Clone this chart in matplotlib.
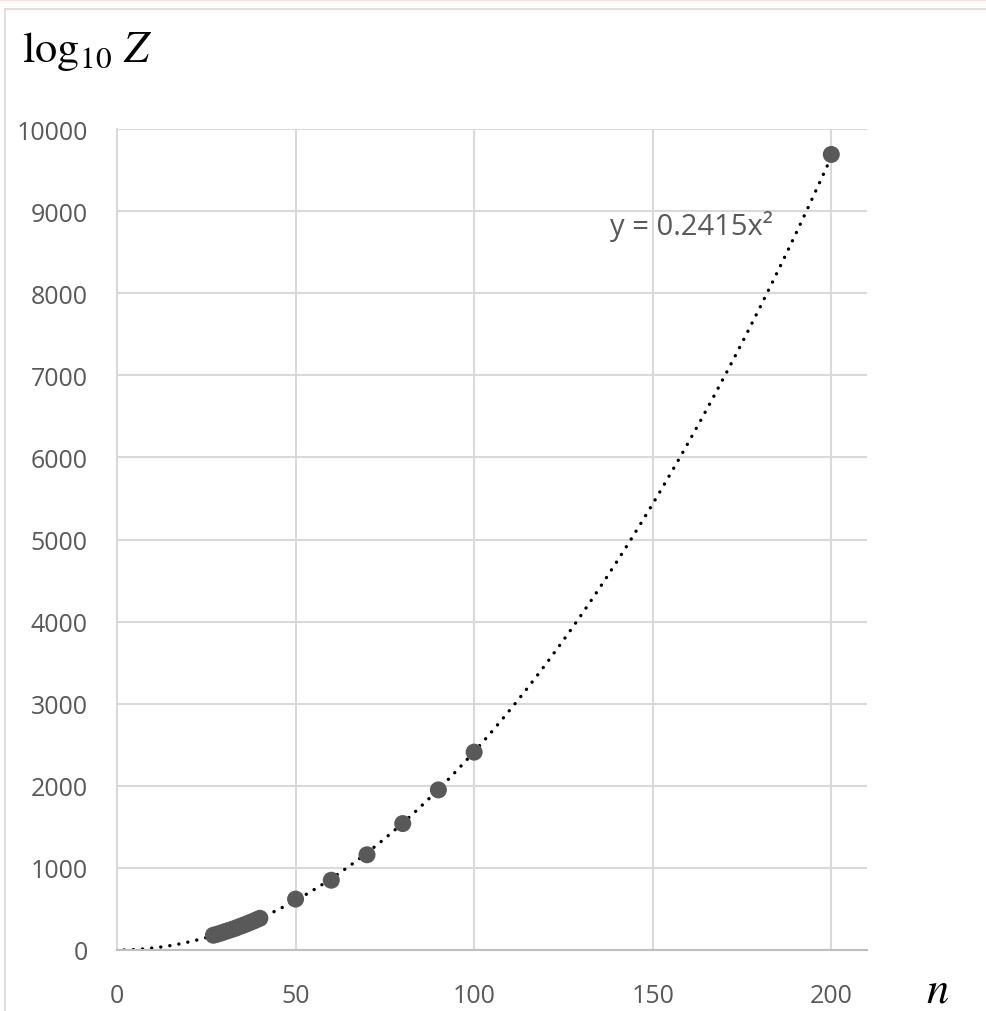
import numpy as np
import matplotlib.pyplot as plt
from matplotlib.lines import Line2D

# datos
n = [27, 28, 29, 30, 31, 32, 33, 34, 35, 36, 37, 38, 39, 40,
     50, 60, 70, 80, 90, 100, 200]
logZ = [180, 192, 205, 220, 234, 248, 263, 280, 296, 313, 330, 348, 367, 386,
        620, 850, 1160, 1540, 1950, 2410, 9690]
coef = 0.2415  # linea de tendencia y = coef * x^2
x_ticks = [0, 50, 100, 150, 200]
y_ticks = list(range(0, 10001, 1000))

plt.rcParams['mathtext.fontset'] = 'stix'
gris = '#595959'

fig = plt.figure(figsize=(9.87, 10.12), dpi=100)
ax = fig.add_axes([117/987, 1-951/1012, 750/987, 821/1012])

_x = np.linspace(2, max(n), 300)
ax.plot(_x, coef*_x**2, color='black', lw=2.4, linestyle=(0, (0.05, 2.7)),
        dash_capstyle='round', zorder=2)
ax.scatter(n, logZ, s=150, color=gris, zorder=3, edgecolors='none')

ax.set_xlim(0, 210)
ax.set_ylim(0, 10000)
ax.set_xticks(x_ticks)
ax.set_yticks(y_ticks)
ax.grid(True, color='#d9d9d9', lw=1.5)
ax.set_axisbelow(True)
for s in ['top', 'right']:
    ax.spines[s].set_visible(False)
ax.spines['left'].set_color('#d9d9d9')
ax.spines['bottom'].set_color('#bfbfbf')
ax.spines['left'].set_linewidth(1.5)
ax.spines['bottom'].set_linewidth(1.5)
ax.tick_params(length=0, labelsize=18, labelcolor=gris)
ax.tick_params(axis='x', pad=24)
ax.tick_params(axis='y', pad=21)
for lab in ax.get_xticklabels() + ax.get_yticklabels():
    lab.set_family('Open Sans')

ax.text(138, 8830, 'y = 0.2415x²', fontsize=21, color=gris, family='Open Sans',
        ha='left', va='center')

fig.text(22/987, 1-62/1012, r'$\log_{10}\,Z$', fontsize=32, ha='left', va='baseline')
fig.text(938/987, 1-990/1012, r'$n$', fontsize=32, ha='center', va='center')

# marco exterior
fig.add_artist(Line2D([5/987, 5/987], [0, 1-10/1012], transform=fig.transFigure,
                      color='#d9d9d9', lw=1.2))
fig.add_artist(Line2D([5/987, 1], [1-10/1012, 1-10/1012], transform=fig.transFigure,
                      color='#d9d9d9', lw=1.2))
fig.add_artist(Line2D([0, 1], [1-1/1012, 1-1/1012], transform=fig.transFigure,
                      color='#f6dede', lw=1.5))

fig.savefig('out.png', dpi=100)
